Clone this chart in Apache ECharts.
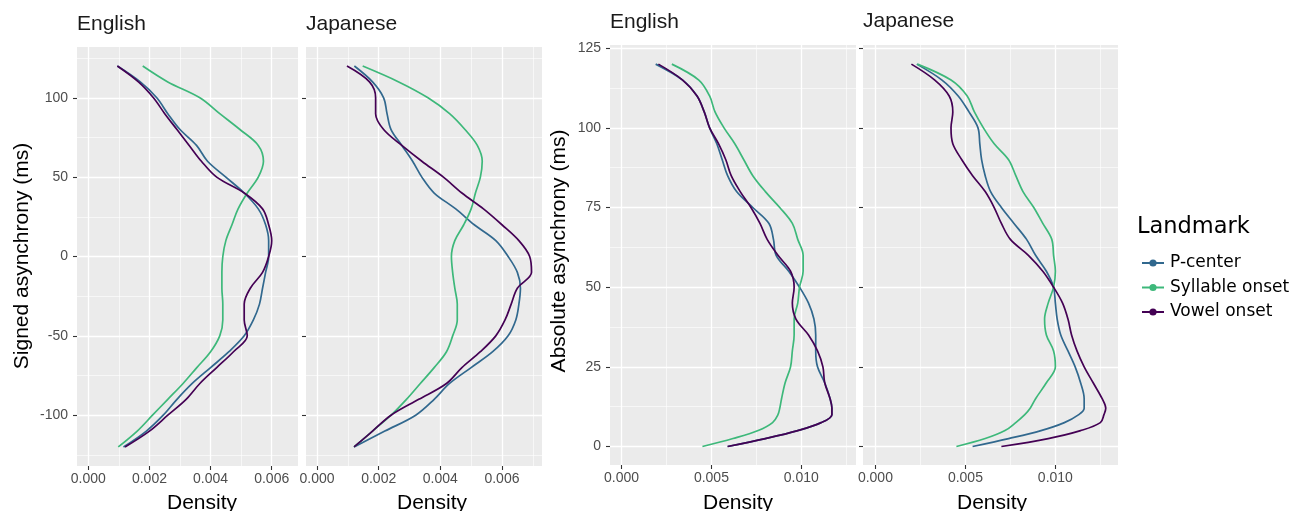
<!DOCTYPE html>
<html>
<head>
<meta charset="utf-8">
<script src="https://cdn.jsdelivr.net/npm/echarts@6/dist/echarts.min.js"></script>
<style>
html,body{margin:0;padding:0;background:#fff;}
#chart{width:1293px;height:511px;}
</style>
</head>
<body>
<div id="chart"></div>
<script>
// ---------- data ----------
const landmarks = ['P-center', 'Syllable onset', 'Vowel onset'];
const panelTitles = ['English', 'Japanese', 'English', 'Japanese'];

// vertical positions (ms) at which density was read
const signedY = [120,110,100,90,80,70,60,50,40,30,20,10,0,-10,-20,-30,-40,-50,-60,-70,-80,-90,-100,-110,-120];
const absY = [120,115,110,105,100,95,90,85,80,75,70,65,60,55,50,45,40,35,30,25,20,15,12,10,7.5,5,2.5,0];

// Signed asynchrony, English
const enSignedPcenter = [0.00095,0.0017,0.00224,0.0026,0.0030,0.00354,0.0039,0.0045,0.0051,0.00556,0.0058,0.0059,0.0059,0.0058,0.0057,0.0056,0.0054,0.0051,0.0046,0.0040,0.0034,0.0029,0.00245,0.0019,0.00115];
const enSignedSyllable = [0.00178,0.0026,0.00365,0.0043,0.00496,0.00556,0.00573,0.00556,0.0052,0.0049,0.0047,0.0045,0.0044,0.00437,0.00437,0.0044,0.0044,0.0043,0.0040,0.00355,0.0031,0.0026,0.0021,0.0016,0.00098];
const enSignedVowel = [0.00095,0.00164,0.00213,0.0025,0.0029,0.0033,0.0037,0.0042,0.0051,0.0057,0.0059,0.0060,0.0059,0.0057,0.0053,0.0051,0.0051,0.0052,0.00475,0.0042,0.00365,0.0032,0.0026,0.0020,0.0012];

// Signed asynchrony, Japanese
const jaSignedPcenter = [0.00121,0.0018,0.00216,0.00227,0.0024,0.00275,0.0031,0.0034,0.0038,0.0045,0.0051,0.0058,0.0062,0.0065,0.0066,0.00655,0.00645,0.0062,0.0057,0.0050,0.0043,0.0038,0.0032,0.0022,0.0012];
const jaSignedSyllable = [0.00148,0.00265,0.0036,0.0043,0.0048,0.0052,0.00536,0.0053,0.00514,0.0050,0.00476,0.00447,0.00436,0.0044,0.00447,0.00455,0.00455,0.0044,0.0042,0.0038,0.00335,0.0029,0.0024,0.0018,0.0012];
const jaSignedVowel = [0.00097,0.0017,0.0019,0.0019,0.00216,0.00275,0.0034,0.0041,0.0047,0.0054,0.0060,0.00655,0.0069,0.00696,0.0065,0.0063,0.0061,0.0058,0.0053,0.0047,0.0042,0.0033,0.0024,0.0018,0.0012];

// Absolute asynchrony, English
const enAbsPcenter = [0.0019,0.0034,0.0042,0.0046,0.0049,0.0053,0.0056,0.0059,0.0064,0.0073,0.0082,0.00845,0.0086,0.0093,0.0099,0.0104,0.0107,0.0108,0.0108,0.0109,0.0113,0.0116,0.0117,0.0117,0.0111,0.0098,0.0080,0.0059];
const enAbsSyllable = [0.0028,0.0043,0.0049,0.0052,0.0057,0.0063,0.0068,0.0073,0.0080,0.0088,0.0095,0.0098,0.0101,0.0101,0.0099,0.0098,0.0096,0.0096,0.0095,0.0094,0.0091,0.0089,0.0088,0.0087,0.0084,0.0076,0.0062,0.0045];
const enAbsVowel = [0.00205,0.0034,0.0042,0.0046,0.0049,0.0054,0.0058,0.0061,0.0066,0.0072,0.0077,0.0081,0.0087,0.0094,0.0096,0.0095,0.0097,0.0104,0.0109,0.0112,0.0113,0.0116,0.0117,0.0117,0.0111,0.0098,0.0080,0.0059];

// Absolute asynchrony, Japanese
const jaAbsPcenter = [0.0023,0.0037,0.0046,0.0052,0.0057,0.0058,0.0059,0.0061,0.0064,0.0070,0.0077,0.0084,0.0089,0.0095,0.0099,0.0100,0.0101,0.0103,0.0107,0.0111,0.0114,0.0116,0.0116,0.0113,0.0105,0.0092,0.0074,0.0054];
const jaAbsSyllable = [0.00233,0.0042,0.0051,0.0055,0.0060,0.0066,0.0074,0.0078,0.0082,0.0088,0.0093,0.0098,0.0099,0.0100,0.0099,0.0096,0.0094,0.0095,0.0099,0.0100,0.0095,0.0089,0.0086,0.0083,0.0078,0.0072,0.0061,0.0045];
const jaAbsVowel = [0.0020,0.0033,0.0041,0.0043,0.0042,0.0043,0.0048,0.0054,0.0061,0.0066,0.0070,0.0075,0.0085,0.0093,0.0099,0.0104,0.0107,0.0109,0.0112,0.0116,0.0121,0.0126,0.0128,0.0127,0.0125,0.0114,0.0096,0.0070];

// tick labels
const signedDensityTicks = [0, 0.002, 0.004, 0.006];
const signedDensityMinor = [0.001, 0.003, 0.005, 0.007];
const absDensityTicks = [0, 0.005, 0.010];
const absDensityMinor = [0.0025, 0.0075, 0.0125];
const signedYTicks = [-100, -50, 0, 50, 100];
const signedYMinor = [-125, -75, -25, 25, 75, 125];
const absYTicks = [0, 25, 50, 75, 100, 125];
const absYMinor = [12.5, 37.5, 62.5, 87.5, 112.5];

// ---------- layout / style ----------
const colors = ['#31688E', '#3DB87A', '#440154'];
const FONT = "'Liberation Sans', Arial, sans-serif";
const grids = [
  {left: 77,  top: 47, width: 221, height: 419},
  {left: 306, top: 47, width: 236, height: 419},
  {left: 610, top: 45, width: 246, height: 420},
  {left: 863, top: 45, width: 255, height: 420}
];
const xRanges = [[-0.00037, 0.00686], [-0.00036, 0.0073], [-0.00064, 0.01304], [-0.00069, 0.01348]];
const yRanges = [[-132, 132], [-132, 132], [-5.8, 126], [-5.8, 126]];
const panelData = [
  {y: signedY, s: [enSignedPcenter, enSignedSyllable, enSignedVowel]},
  {y: signedY, s: [jaSignedPcenter, jaSignedSyllable, jaSignedVowel]},
  {y: absY, s: [enAbsPcenter, enAbsSyllable, enAbsVowel]},
  {y: absY, s: [jaAbsPcenter, jaAbsSyllable, jaAbsVowel]}
];

const xAxes = [], yAxes = [], series = [];
grids.forEach((g, i) => {
  const signed = i < 2;
  const xMaj = signed ? signedDensityTicks : absDensityTicks;
  const yMaj = signed ? signedYTicks : absYTicks;
  const showYLabels = (i === 0 || i === 2);
  xAxes.push({
    type: 'value', gridIndex: i, min: xRanges[i][0], max: xRanges[i][1], position: 'bottom',
    axisLine: {show: false, onZero: false},
    axisTick: {show: true, length: 4, customValues: xMaj, lineStyle: {color: '#333', width: 1.1}},
    axisLabel: {show: true, customValues: xMaj, margin: 6, color: '#4D4D4D', fontSize: 14, fontFamily: FONT,
      formatter: v => v.toFixed(3), showMinLabel: true, showMaxLabel: true},
    splitLine: {show: true, lineStyle: {color: '#ffffff', width: 1.3}},
    z: 1
  });
  yAxes.push({
    type: 'value', gridIndex: i, min: yRanges[i][0], max: yRanges[i][1], position: 'left',
    axisLine: {show: false, onZero: false},
    axisTick: {show: true, length: 4, customValues: yMaj, lineStyle: {color: '#333', width: 1.1}},
    axisLabel: {show: showYLabels, customValues: yMaj, margin: 9, color: '#4D4D4D', fontSize: 14, fontFamily: FONT},
    splitLine: {show: true, lineStyle: {color: '#ffffff', width: 1.3}},
    z: 1
  });
  panelData[i].s.forEach((dens, k) => {
    series.push({
      type: 'line', name: landmarks[k], xAxisIndex: i, yAxisIndex: i,
      data: panelData[i].y.map((v, j) => [dens[j], v]),
      smooth: 0.35, symbol: 'circle', showSymbol: false, silent: true,
      lineStyle: {color: colors[k], width: 1.7},
      itemStyle: {color: colors[k]},
      z: 3
    });
  });
});
// minor grid lines via extra hidden axes
grids.forEach((g, i) => {
  const signed = i < 2;
  xAxes.push({
    type: 'value', gridIndex: i, min: xRanges[i][0], max: xRanges[i][1], position: 'bottom',
    axisLine: {show: false, onZero: false}, axisLabel: {show: false},
    axisTick: {show: false, customValues: signed ? signedDensityMinor : absDensityMinor},
    splitLine: {show: true, lineStyle: {color: '#ffffff', width: 0.6}}, z: 0
  });
  yAxes.push({
    type: 'value', gridIndex: i, min: yRanges[i][0], max: yRanges[i][1], position: 'left',
    axisLine: {show: false, onZero: false}, axisLabel: {show: false},
    axisTick: {show: false, customValues: signed ? signedYMinor : absYMinor},
    splitLine: {show: true, lineStyle: {color: '#ffffff', width: 0.6}}, z: 0
  });
});

const stripPos = [[77, 24.5], [306, 24.2], [610, 22.5], [863, 21.5]];
const densityCenters = [202, 432, 738, 992];
const graphics = [];
panelTitles.forEach((t, i) => {
  graphics.push({type: 'text', x: stripPos[i][0], y: stripPos[i][1], silent: true,
    style: {text: t, font: '21px ' + FONT, fill: '#1A1A1A', align: 'left', verticalAlign: 'middle'}});
  graphics.push({type: 'text', x: densityCenters[i], y: 503.5, silent: true,
    style: {text: 'Density', font: '21px ' + FONT, fill: '#000', align: 'center', verticalAlign: 'middle'}});
});
graphics.push({type: 'text', x: 22.5, y: 256, rotation: Math.PI / 2, silent: true,
  style: {text: 'Signed asynchrony (ms)', font: '21px ' + FONT, fill: '#000', align: 'center', verticalAlign: 'middle'}});
graphics.push({type: 'text', x: 559, y: 251, rotation: Math.PI / 2, silent: true,
  style: {text: 'Absolute asynchrony (ms)', font: '21px ' + FONT, fill: '#000', align: 'center', verticalAlign: 'middle'}});
graphics.push({type: 'text', x: 1137, y: 227, silent: true,
  style: {text: 'Landmark', font: "22.5px 'DejaVu Sans', sans-serif", fill: '#000', align: 'left', verticalAlign: 'middle'}});

const chart = echarts.init(document.getElementById('chart'), null, {renderer: 'canvas'});
chart.setOption({
  animation: false,
  backgroundColor: '#ffffff',
  grid: grids.map(g => Object.assign({show: true, backgroundColor: '#EBEBEB', borderWidth: 0, containLabel: false}, g)),
  xAxis: xAxes,
  yAxis: yAxes,
  legend: {
    data: landmarks, orient: 'vertical', left: 1136, top: 249,
    itemWidth: 22, itemHeight: 9, itemGap: 6.5,
    textStyle: {fontFamily: "'DejaVu Sans', sans-serif", fontSize: 17, color: '#000', lineHeight: 18, padding: [0, 0, 0, 1]},
    selectedMode: false
  },
  graphic: graphics,
  series: series
});
</script>
</body>
</html>
